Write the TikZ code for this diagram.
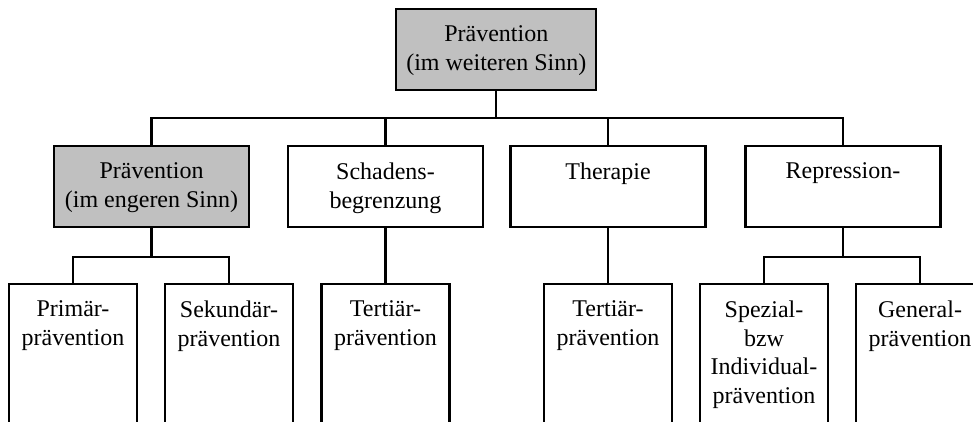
\documentclass[tikz,border=0pt]{standalone}
\usepackage{fontspec}
\setmainfont{Liberation Serif}
\usetikzlibrary{positioning,calc}
\definecolor{boxgray}{RGB}{192,192,192}

\begin{document}
\begin{tikzpicture}[x=1pt, y=-1pt]
	\useasboundingbox (0, 0) rectangle (973, 421);
	\clip (0, 0) rectangle (973, 421);
	\begin{scope}
		\tikzstyle{every node}=[inner sep=0pt]
		\tikzstyle{box}=[draw, line width=2.2pt, minimum width=195pt, minimum height=81pt]
		\tikzstyle{sbox}=[box, minimum width=128pt, minimum height=160pt]
		\tikzstyle{txt}=[anchor=north, align=center, yshift=-18pt, font=\fontsize{24}{28.5}\selectfont]
		\tikzstyle{conn}=[line width=2.2pt]

		\node[box, fill=boxgray, minimum width=200pt] (pws) at (496.3, 49.5) {};
		\node[txt] (pwst) at (pws.north) {Prävention\\(im weiteren Sinn)};

		\node[box, fill=boxgray] (pes) at (151.5, 186.5) {};
		\node[box] (sb) at (385.5, 186.5) {};
		\node[box] (th) at (608, 186.5) {};
		\node[box] (rp) at (843, 186.5) {};
		\node[txt] (pest) at (pes.north) {Prävention\\(im engeren Sinn)};
		\node[txt] (sbt) at (sb.north) {Schadens-\\begrenzung};
		\node[txt] (tht) at (th.north) {Therapie};
		\node[txt] (rpt) at (rp.north) {Repression-};

		\node[sbox] (pp) at (73, 364) {};
		\node[sbox] (sp) at (229, 364) {};
		\node[sbox] (tp1) at (385.5, 364) {};
		\node[sbox] (tp2) at (608, 364) {};
		\node[sbox] (ip) at (764, 364) {};
		\node[sbox] (gp) at (920, 364) {};
		\node[txt] (ppt) at (pp.north) {Primär-\\prävention};
		\node[txt] (spt) at (sp.north) {Sekundär-\\prävention};
		\node[txt] (tp1t) at (tp1.north) {Tertiär-\\prävention};
		\node[txt] (tp2t) at (tp2.north) {Tertiär-\\prävention};
		\node[txt] (ipt) at (ip.north) {Spezial-\\bzw\\Individual-\\prävention};
		\node[txt] (gpt) at (gp.north) {General-\\prävention};

		\coordinate (j0) at (496.3, 118);
		\coordinate (j1) at (151.5, 256.7);
		\coordinate (j4) at (843, 256.7);

		\draw [conn] (pws.south) to (j0);
		\draw [conn] (j0) -| (pes.north);
		\draw [conn] (j0) -| (sb.north);
		\draw [conn] (j0) -| (th.north);
		\draw [conn] (j0) -| (rp.north);

		\draw [conn] (pes.south) to (j1);
		\draw [conn] (j1) -| (pp.north);
		\draw [conn] (j1) -| (sp.north);
		\draw [conn] (sb.south) to (tp1.north);
		\draw [conn] (th.south) to (tp2.north);
		\draw [conn] (rp.south) to (j4);
		\draw [conn] (j4) -| (ip.north);
		\draw [conn] (j4) -| (gp.north);
	\end{scope}
\end{tikzpicture}
\end{document}
